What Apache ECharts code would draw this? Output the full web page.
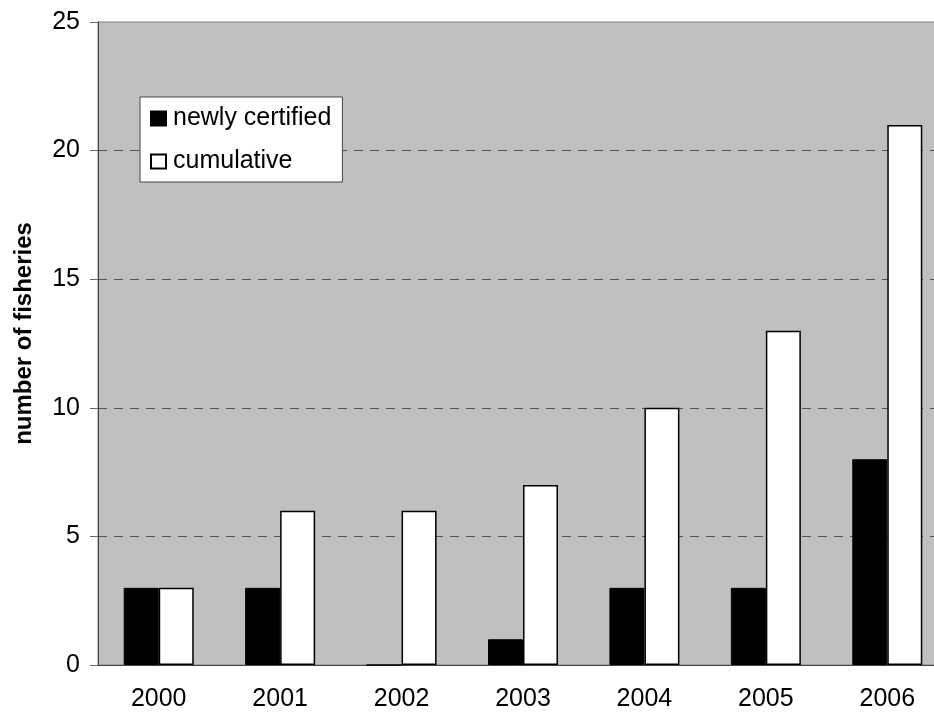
<!DOCTYPE html>
<html>
<head>
<meta charset="utf-8">
<script src="https://cdn.jsdelivr.net/npm/echarts@6/dist/echarts.min.js"></script>
<style>
  html, body { margin: 0; padding: 0; background: #fff; }
  #main { width: 934px; height: 714px; }
</style>
</head>
<body>
<div id="main"></div>
<script>
// data
var years = ['2000', '2001', '2002', '2003', '2004', '2005', '2006'];
var newlyCertified = [3, 3, 0, 1, 3, 3, 8];
var cumulative = [3, 6, 6, 7, 10, 13, 21];

var chart = echarts.init(document.getElementById('main'));

var font = 'Liberation Sans, Arial, sans-serif';

chart.setOption({
    animation: false,
    textStyle: { fontFamily: font },
    grid: {
        left: 98,
        top: 22,
        width: 850,
        bottom: 49,
        outerBoundsMode: 'none',
        show: true,
        backgroundColor: '#c0c0c0',
        borderColor: '#808080',
        borderWidth: 1
    },
    legend: {
        orient: 'vertical',
        left: 140,
        top: 97,
        padding: [9, 11, 8, 10],
        itemGap: 18,
        itemWidth: 15,
        itemHeight: 14,
        backgroundColor: '#fff',
        borderColor: '#444',
        borderWidth: 1,
        textStyle: { fontSize: 25, color: '#000', fontFamily: font, padding: [0, 0, 0, 2] },
        data: [
            { name: 'newly certified', icon: 'rect' },
            { name: 'cumulative', icon: 'rect' }
        ]
    },
    xAxis: {
        type: 'category',
        data: years,
        axisLine: { lineStyle: { color: '#444', width: 1 } },
        axisTick: { alignWithLabel: false, length: 8, lineStyle: { color: '#666' } },
        axisLabel: { fontSize: 25, color: '#000', margin: 22 }
    },
    yAxis: {
        type: 'value',
        min: 0,
        max: 25,
        interval: 5,
        name: 'number of fisheries',
        nameLocation: 'middle',
        nameGap: 62,
        nameTextStyle: { fontSize: 24, fontWeight: 'bold', color: '#000', padding: [0, 0, 0, 20] },
        axisLine: { show: true, lineStyle: { color: '#444', width: 1 } },
        axisTick: { show: true, length: 8, lineStyle: { color: '#666' } },
        axisLabel: { fontSize: 25, color: '#000', margin: 18 },
        splitLine: {
            show: true,
            showMaxLine: false,
            showMinLine: false,
            lineStyle: { color: '#555', type: [9, 7], width: 1 }
        }
    },
    series: [
        {
            name: 'newly certified',
            type: 'bar',
            data: newlyCertified,
            barWidth: 35,
            barGap: '0%',
            itemStyle: { color: '#000', borderColor: '#000', borderWidth: 1 }
        },
        {
            name: 'cumulative',
            type: 'bar',
            data: cumulative,
            barWidth: 35,
            barGap: '0%',
            itemStyle: { color: '#fff', borderColor: '#000', borderWidth: 1.5 }
        }
    ]
});
</script>
</body>
</html>
